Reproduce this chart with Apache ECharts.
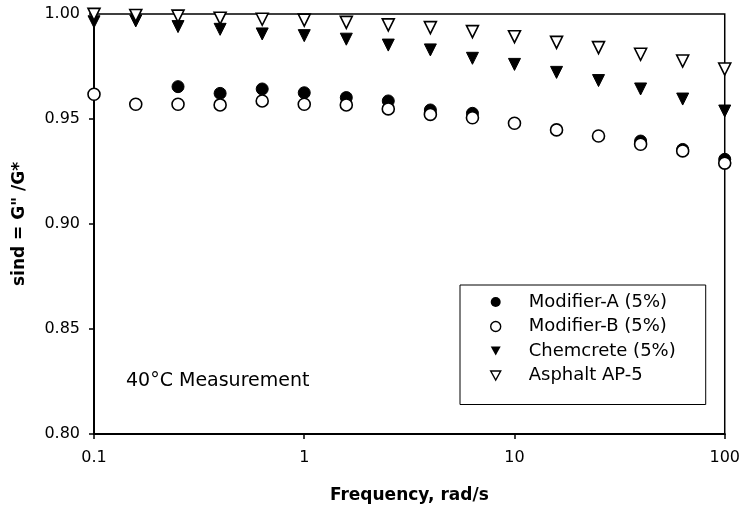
<!DOCTYPE html>
<html>
<head>
<meta charset="utf-8">
<script src="https://cdn.jsdelivr.net/npm/echarts@6/dist/echarts.min.js"></script>
<style>
  html, body { margin: 0; padding: 0; background: #fff; }
  #chart { width: 743px; height: 511px; }
</style>
</head>
<body>
<div id="chart"></div>
<script>
// frequency points, rad/s
var freq = [0.1, 0.158, 0.251, 0.398, 0.631, 1, 1.585, 2.51, 3.98, 6.31, 10, 15.85, 25.1, 39.8, 63.1, 100];
// Modifier-A is missing at a few frequencies
var modAFreq = [0.251, 0.398, 0.631, 1, 1.585, 2.51, 3.98, 6.31, 39.8, 63.1, 100];
var modA = [0.9654, 0.9622, 0.9643, 0.9625, 0.9602, 0.9586, 0.9543, 0.9527, 0.9395, 0.9355, 0.9308];
var modB = [0.9618, 0.957, 0.957, 0.9567, 0.9586, 0.957, 0.9567, 0.9548, 0.9522, 0.9506, 0.948, 0.9448, 0.9419, 0.938, 0.9348, 0.929];
var chem = [0.9963, 0.9967, 0.994, 0.9927, 0.9905, 0.9897, 0.988, 0.9852, 0.9829, 0.9789, 0.976, 0.9722, 0.9683, 0.9643, 0.9595, 0.9538];
var asph = [0.9998, 0.9993, 0.999, 0.998, 0.9975, 0.9971, 0.996, 0.9948, 0.9935, 0.9916, 0.9892, 0.9865, 0.984, 0.9808, 0.9776, 0.9738];
var seriesNames = ["Modifier-A (5%)", "Modifier-B (5%)", "Chemcrete (5%)", "Asphalt AP-5"];

var font = "DejaVu Sans";
var downTri = "path://M0,0 L10,0 L5,9 Z";

function pairs(xs, ys) {
  var out = [];
  for (var i = 0; i < ys.length; i++) out.push([xs[i], ys[i]]);
  return out;
}

var chart = echarts.init(document.getElementById("chart"));

var option = {
  animation: false,
  backgroundColor: "#fff",
  textStyle: { fontFamily: font, color: "#000" },
  grid: {
    left: 94, right: 15, top: 14, bottom: 77,
    show: true, borderColor: "#000", borderWidth: 1.5
  },
  legend: {
    orient: "vertical",
    left: 460, top: 285,
    padding: [8, 30, 20, 30],
    itemGap: 6.5,
    itemWidth: 10, itemHeight: 10,
    borderColor: "#000", borderWidth: 1, borderRadius: 0,
    backgroundColor: "#fff",
    textStyle: { fontFamily: font, fontSize: 18, color: "#000", padding: [0, 0, 0, 23] },
    data: [
      { name: seriesNames[0], icon: "circle", itemStyle: { color: "#000", borderWidth: 0 } },
      { name: seriesNames[1], icon: "circle", itemStyle: { color: "#fff", borderColor: "#000", borderWidth: 1.4 } },
      { name: seriesNames[2], icon: downTri, itemStyle: { color: "#000", borderWidth: 0 } },
      { name: seriesNames[3], icon: downTri, itemStyle: { color: "#fff", borderColor: "#000", borderWidth: 1.4 } }
    ]
  },
  xAxis: {
    type: "log", logBase: 10, min: 0.1, max: 100,
    name: "Frequency, rad/s",
    nameLocation: "middle", nameGap: 53,
    nameTextStyle: { fontFamily: font, fontSize: 17, fontWeight: "bold", color: "#000" },
    axisLine: { lineStyle: { color: "#000", width: 2 } },
    axisTick: { show: true, length: 5, lineStyle: { color: "#000", width: 1.5 } },
    minorTick: { show: false },
    splitLine: { show: false },
    axisLabel: {
      margin: 16, fontSize: 16, fontFamily: font, color: "#000",
      formatter: function (v) { return v < 1 ? "0.1" : String(Math.round(v)); }
    }
  },
  yAxis: {
    type: "value", min: 0.8, max: 1.0, interval: 0.05,
    name: 'sind = G" /G*',
    nameLocation: "middle", nameGap: 66,
    nameTextStyle: { fontFamily: font, fontSize: 17, fontWeight: "bold", color: "#000" },
    axisLine: { show: true, lineStyle: { color: "#000", width: 2 } },
    axisTick: { show: true, length: 5, lineStyle: { color: "#000", width: 1.5 } },
    splitLine: { show: false },
    axisLabel: {
      margin: 14, fontSize: 16, fontFamily: font, color: "#000",
      formatter: function (v) { return v.toFixed(2); }
    }
  },
  graphic: [{
    type: "text", left: 126, top: 372,
    style: { text: "40°C Measurement", font: "19px 'DejaVu Sans'", fill: "#000" }
  }],
  series: [
    {
      name: seriesNames[0], type: "scatter", clip: false,
      data: pairs(modAFreq, modA),
      symbol: "circle", symbolSize: 12,
      itemStyle: { color: "#000", borderColor: "#000", borderWidth: 1, opacity: 1 }
    },
    {
      name: seriesNames[1], type: "scatter", clip: false,
      data: pairs(freq, modB),
      symbol: "circle", symbolSize: 12,
      itemStyle: { color: "#fff", borderColor: "#000", borderWidth: 1.6, opacity: 1 }
    },
    {
      name: seriesNames[2], type: "scatter", clip: false,
      data: pairs(freq, chem),
      symbol: "triangle", symbolRotate: 180, symbolSize: 12,
      itemStyle: { color: "#000", borderColor: "#000", borderWidth: 1, opacity: 1 }
    },
    {
      name: seriesNames[3], type: "scatter", clip: false,
      data: pairs(freq, asph),
      symbol: "triangle", symbolRotate: 180, symbolSize: 12,
      itemStyle: { color: "#fff", borderColor: "#000", borderWidth: 1.6, opacity: 1 }
    }
  ]
};

chart.setOption(option);
</script>
</body>
</html>
